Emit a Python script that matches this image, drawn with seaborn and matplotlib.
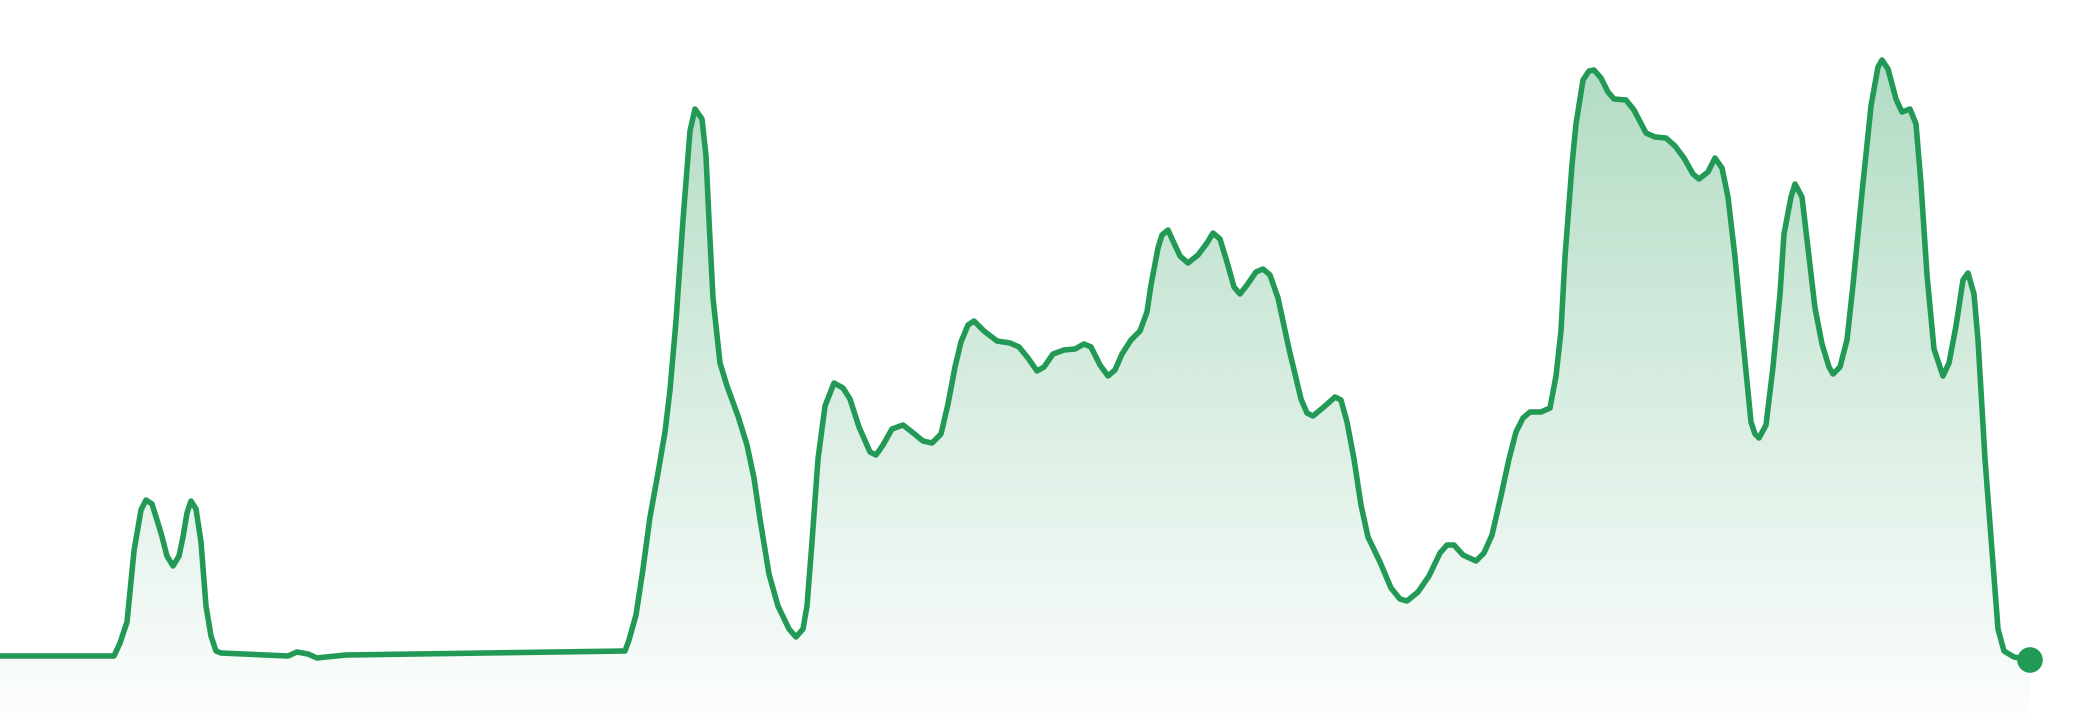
import numpy as np
import pandas as pd
import matplotlib
matplotlib.use("Agg")
import matplotlib.pyplot as plt
import seaborn as sns

# sampled series (time index, level)
t = [0, 114, 120, 127, 134, 141, 146, 152, 161, 167, 173, 179, 183, 187, 191, 196,
     201, 206, 211, 216, 221, 288, 297, 308, 317, 326, 346, 625, 629, 636, 643, 650,
     658, 665, 670, 676, 683, 690, 695,
     702, 706, 709, 713, 720, 727, 738, 747, 754, 760, 769, 778, 789, 796, 803, 807,
     812, 818, 825, 834, 843, 850, 859, 870, 876, 883, 892, 903, 912, 923, 932, 941,
     948, 955, 961, 968, 974, 984, 997, 1010, 1019, 1028, 1037, 1044, 1053, 1064,
     1075, 1084, 1091, 1100, 1108, 1115, 1122, 1131, 1140, 1147, 1151, 1158, 1162,
     1168, 1173, 1180, 1188, 1198, 1207, 1213, 1220, 1227, 1234, 1240, 1247, 1256,
     1263, 1270, 1278, 1289, 1301, 1307, 1313, 1325, 1335, 1341, 1347, 1354, 1361,
     1368, 1380,
     1391, 1400, 1407, 1418, 1429, 1440, 1447, 1454, 1463, 1476, 1484, 1492, 1501,
     1509, 1516, 1523, 1530, 1541, 1550, 1556, 1561, 1565, 1572, 1576, 1583, 1589,
     1594, 1601, 1608, 1614, 1626, 1634, 1646, 1655, 1666, 1675, 1684, 1693, 1699,
     1708, 1715, 1722, 1728, 1735, 1742, 1751, 1755, 1759, 1766, 1773, 1780, 1784,
     1791, 1795, 1802, 1809, 1815, 1822, 1829, 1833, 1840, 1847, 1853, 1862, 1871,
     1878, 1882, 1888, 1896, 1902, 1910, 1916, 1921, 1927, 1934, 1943, 1949, 1956,
     1963, 1968, 1974, 1978, 1985, 1992, 1998, 2004, 2014, 2030]

level = [64, 64, 77, 98, 169, 210, 220, 216, 187, 164, 154, 164, 183, 207, 219, 211,
         178, 114, 84, 69, 67, 64, 68, 66, 62, 63, 65, 69, 80, 105, 151, 203,
         247, 288, 330, 399, 500, 589, 611,
         601, 564, 500, 422, 357, 334, 304, 275, 242, 201, 146, 114, 91, 83, 91, 114,
         178, 261, 314, 337, 332, 321, 293, 268, 265, 275, 291, 295, 288, 279, 277, 286,
         316, 353, 378, 395, 399, 389, 379, 377, 373, 362, 349, 353, 366, 370,
         371, 376, 373, 355, 344, 350, 366, 380, 389, 408, 435, 472, 485,
         490, 479, 464, 457, 465, 477, 487, 481, 458, 433, 426, 435, 448,
         451, 445, 422, 371, 321, 307, 304, 314, 323, 320, 298, 261, 215,
         183, 158,
         132, 121, 119, 128, 144, 167, 175, 175, 165, 159, 167, 185, 224,
         261, 288, 302, 308, 308, 312, 344, 389, 463, 555, 596, 640, 649,
         650, 642, 628, 621, 620, 610, 587, 583, 582, 574, 562, 546, 541,
         548, 562, 552, 523, 463, 389, 298, 286, 282, 295, 353, 426, 486,
         523, 536, 523, 463, 412, 376, 353, 346, 353, 380, 435, 527, 614,
         653, 660, 651, 621, 608, 611, 596, 536, 445, 371, 344, 357, 394,
         440, 447, 426, 380, 261, 169, 91, 69, 63, 60]

df = pd.DataFrame({"t": t, "level": level})
green = "#229a56"

fig = plt.figure(figsize=(20.8, 7.2), dpi=100)
ax = fig.add_axes([0, 0, 1, 1])
ax.set_xlim(0, 2080)
ax.set_ylim(0, 720)
ax.axis("off")

# gradient fill under the line
poly = ax.fill_between(df["t"], df["level"], 0, facecolor="none", edgecolor="none")
n = 256
alphas = np.linspace(0.01, 0.35, n)
grad = np.zeros((n, 1, 4))
grad[:, 0, :3] = matplotlib.colors.to_rgb(green)
grad[:, 0, 3] = alphas
top = df["level"].max()
img = ax.imshow(grad, aspect="auto", origin="lower",
                extent=[df["t"].min(), df["t"].max(), 0, top], zorder=1)
img.set_clip_path(poly.get_paths()[0], transform=ax.transData)

sns.lineplot(data=df, x="t", y="level", ax=ax, color=green, linewidth=4.0,
             sort=False, zorder=3, solid_joinstyle="round", solid_capstyle="round")
ax.scatter(df["t"].iloc[-1], df["level"].iloc[-1], s=340, color=green, zorder=4,
           edgecolor="none")
ax.set_xlim(0, 2080)
ax.set_ylim(0, 720)

fig.savefig("out.png", dpi=100)
